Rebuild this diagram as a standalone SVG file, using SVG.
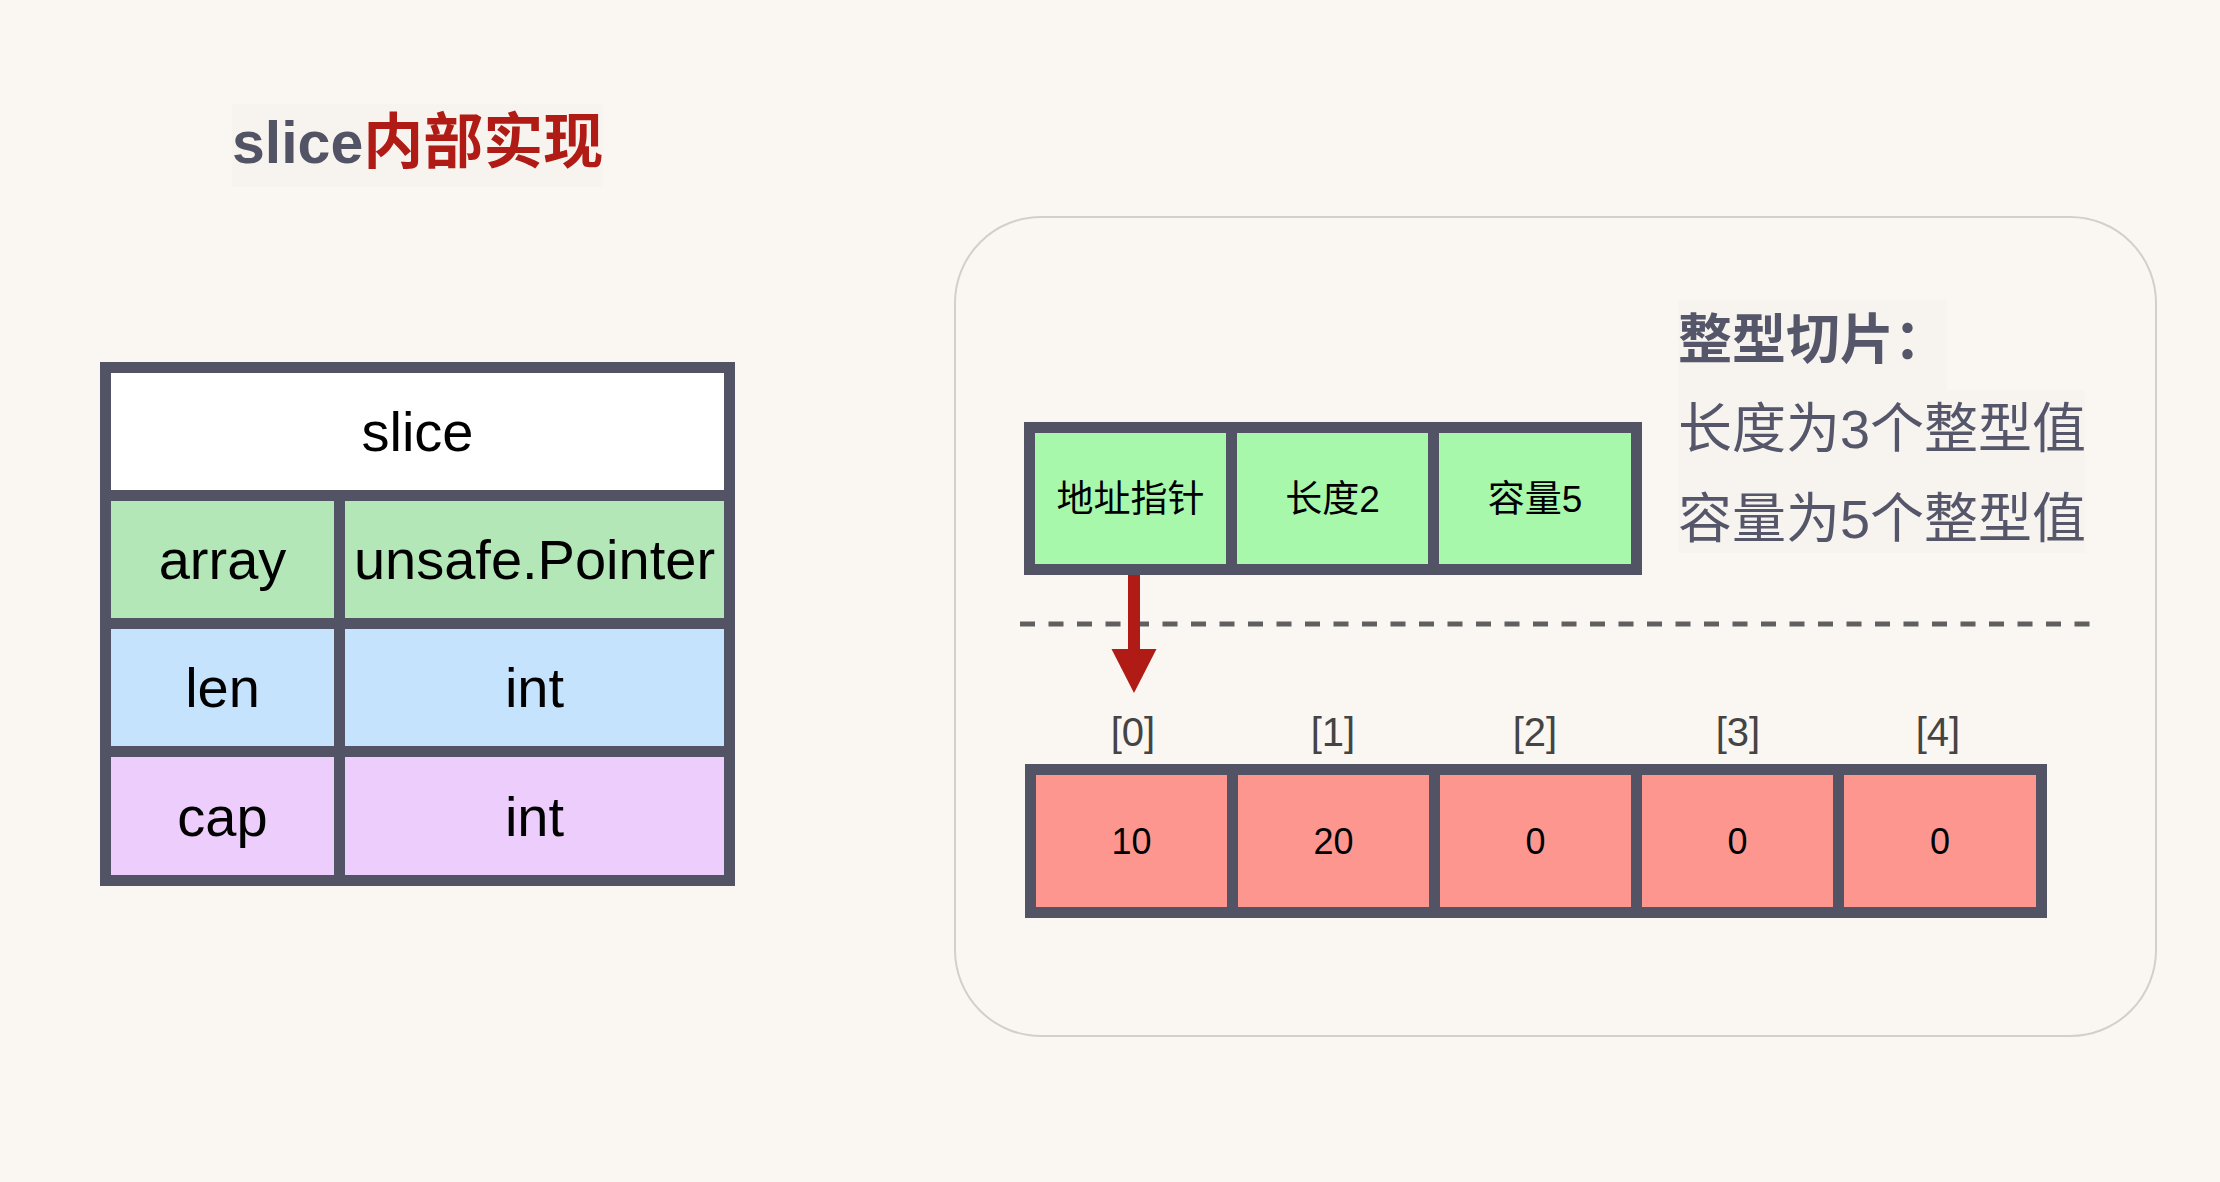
<svg xmlns="http://www.w3.org/2000/svg" width="2220" height="1182" viewBox="0 0 2220 1182">
  <defs>
    <style>
      .lat { font-family: "Liberation Sans", "Noto Sans CJK SC", sans-serif; }
      .cjk { font-family: "Liberation Sans", "Noto Sans CJK SC", sans-serif; }
      .frame { fill: #535366; }
      .cellTxt { font-size: 56px; fill: #000000; text-anchor: middle; }
      .smallTxt { font-size: 37px; fill: #000000; text-anchor: middle; }
      .numTxt { font-size: 36px; fill: #000000; text-anchor: middle; }
      .idxTxt { font-size: 40px; fill: #444444; text-anchor: middle; }
      .note { font-size: 54px; fill: #55566a; }
    </style>
    <marker id="arrowHead" markerUnits="userSpaceOnUse" markerWidth="46" markerHeight="46" refX="0" refY="23" orient="auto">
      <path d="M0,0.5 L44,23 L0,45.5 Z" fill="#b01c15"/>
    </marker>
  </defs>

  <rect x="0" y="0" width="2220" height="1182" fill="#faf7f3"/>

  <!-- Title -->
  <g id="title">
    <rect x="232" y="104" width="371" height="83" fill="#f7f4ef"/>
    <text x="232" y="163" class="lat" font-size="59" font-weight="bold"><tspan fill="#535366">slice</tspan><tspan fill="#b01c15" font-size="60" class="cjk">内部实现</tspan></text>
  </g>

  <!-- Left slice struct table -->
  <g id="slice-struct">
    <rect class="frame" x="100" y="362" width="635" height="524"/>
    <g id="slice-header">
      <rect x="111" y="373" width="613" height="117" fill="#ffffff"/>
      <text x="417.5" y="451" class="lat cellTxt">slice</text>
    </g>
    <g id="row-array">
      <rect x="111" y="501" width="223" height="117" fill="#b4e7b7"/>
      <rect x="345" y="501" width="379" height="117" fill="#b4e7b7"/>
      <text x="222.5" y="579" class="lat cellTxt">array</text>
      <text x="534.5" y="579" class="lat cellTxt">unsafe.Pointer</text>
    </g>
    <g id="row-len">
      <rect x="111" y="629" width="223" height="117" fill="#c6e3fd"/>
      <rect x="345" y="629" width="379" height="117" fill="#c6e3fd"/>
      <text x="222.5" y="707" class="lat cellTxt">len</text>
      <text x="534.5" y="707" class="lat cellTxt">int</text>
    </g>
    <g id="row-cap">
      <rect x="111" y="757" width="223" height="118" fill="#eccdfb"/>
      <rect x="345" y="757" width="379" height="118" fill="#eccdfb"/>
      <text x="222.5" y="836" class="lat cellTxt">cap</text>
      <text x="534.5" y="836" class="lat cellTxt">int</text>
    </g>
  </g>

  <!-- Right panel -->
  <g id="panel">
    <rect x="955" y="217" width="1201" height="819" rx="86" ry="86" fill="none" stroke="#d3cfcb" stroke-width="2"/>
  </g>

  <!-- Notes -->
  <g id="notes">
    <rect x="1678" y="300" width="269" height="90" fill="#f7f4ef"/>
    <rect x="1678" y="390" width="407" height="163" fill="#f7f4ef"/>
    <text x="1678" y="359" class="cjk note" font-weight="bold">整型切片：</text>
    <text x="1678" y="448" class="cjk note">长度为3个整型值</text>
    <text x="1678" y="538" class="cjk note">容量为5个整型值</text>
  </g>

  <!-- Slice header (runtime) -->
  <g id="slice-header-box">
    <rect class="frame" x="1024" y="422" width="618" height="153"/>
    <g id="cell-ptr">
      <rect x="1035" y="433" width="191" height="131" fill="#a8f8ac"/>
      <text x="1130.5" y="512" class="cjk smallTxt">地址指针</text>
    </g>
    <g id="cell-len">
      <rect x="1237" y="433" width="191" height="131" fill="#a8f8ac"/>
      <text x="1332.5" y="512" class="cjk smallTxt">长度2</text>
    </g>
    <g id="cell-cap">
      <rect x="1439" y="433" width="192" height="131" fill="#a8f8ac"/>
      <text x="1535" y="512" class="cjk smallTxt">容量5</text>
    </g>
  </g>

  <!-- Divider -->
  <g id="divider">
    <line x1="1020" y1="624" x2="2093" y2="624" stroke="#606060" stroke-width="5" stroke-dasharray="15 13.5"/>
  </g>

  <!-- Underlying array -->
  <g id="array-box">
    <rect class="frame" x="1025" y="764" width="1022" height="154"/>
    <g id="elem-0">
      <rect x="1036" y="775" width="191" height="132" fill="#fe9690"/>
      <text x="1131.5" y="854" class="lat numTxt">10</text>
      <text x="1133" y="746" class="lat idxTxt">[0]</text>
    </g>
    <g id="elem-1">
      <rect x="1238" y="775" width="191" height="132" fill="#fe9690"/>
      <text x="1333.5" y="854" class="lat numTxt">20</text>
      <text x="1333" y="746" class="lat idxTxt">[1]</text>
    </g>
    <g id="elem-2">
      <rect x="1440" y="775" width="191" height="132" fill="#fe9690"/>
      <text x="1535.5" y="854" class="lat numTxt">0</text>
      <text x="1535" y="746" class="lat idxTxt">[2]</text>
    </g>
    <g id="elem-3">
      <rect x="1642" y="775" width="191" height="132" fill="#fe9690"/>
      <text x="1737.5" y="854" class="lat numTxt">0</text>
      <text x="1738" y="746" class="lat idxTxt">[3]</text>
    </g>
    <g id="elem-4">
      <rect x="1844" y="775" width="192" height="132" fill="#fe9690"/>
      <text x="1940" y="854" class="lat numTxt">0</text>
      <text x="1938" y="746" class="lat idxTxt">[4]</text>
    </g>
  </g>

  <!-- Connectors -->
  <g id="connectors">
    <line x1="1134" y1="575" x2="1134" y2="649" stroke="#b01c15" stroke-width="12" marker-end="url(#arrowHead)"/>
  </g>
</svg>
